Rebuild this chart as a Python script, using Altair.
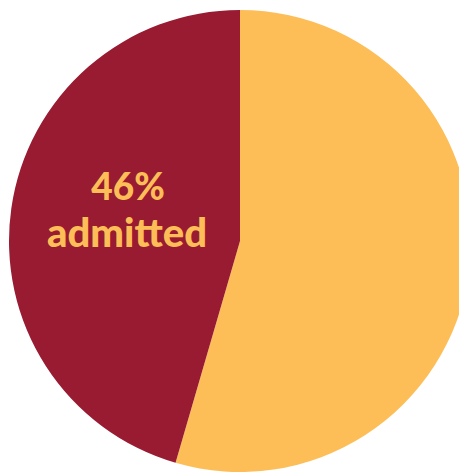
import altair as alt
import pandas as pd

categories = ["not admitted", "admitted"]
values = [54.5, 45.5]
colors = ["#FDBE57", "#981B32"]
label_pct = ["46%"]
label_word = ["admitted"]

df = pd.DataFrame({"category": categories, "value": values, "order": [0, 1]})

pie = alt.Chart(df).mark_arc(outerRadius=231, stroke=None).encode(
    theta=alt.Theta("value:Q", stack=True),
    color=alt.Color("category:N", scale=alt.Scale(domain=categories, range=colors), legend=None),
    order=alt.Order("order:Q"),
    x=alt.value(232),
    y=alt.value(233),
)

t1 = alt.Chart(pd.DataFrame({"t": label_pct})).mark_text(
    font="Lato", fontWeight=900, fontSize=37, color="#FDBE57",
    align="center", baseline="alphabetic"
).encode(text="t:N", x=alt.value(120), y=alt.value(192))

t2 = alt.Chart(pd.DataFrame({"t": label_word})).mark_text(
    font="Lato", fontWeight=900, fontSize=40, color="#FDBE57",
    align="center", baseline="alphabetic"
).encode(text="t:N", x=alt.value(119), y=alt.value(239))

chart = alt.layer(pie, t1, t2).properties(
    width=451, height=465, padding=0,
    autosize=alt.AutoSizeParams(type="none"),
).configure_view(stroke=None)

chart.save("out.html", embed_options={"renderer": "svg", "actions": False})
